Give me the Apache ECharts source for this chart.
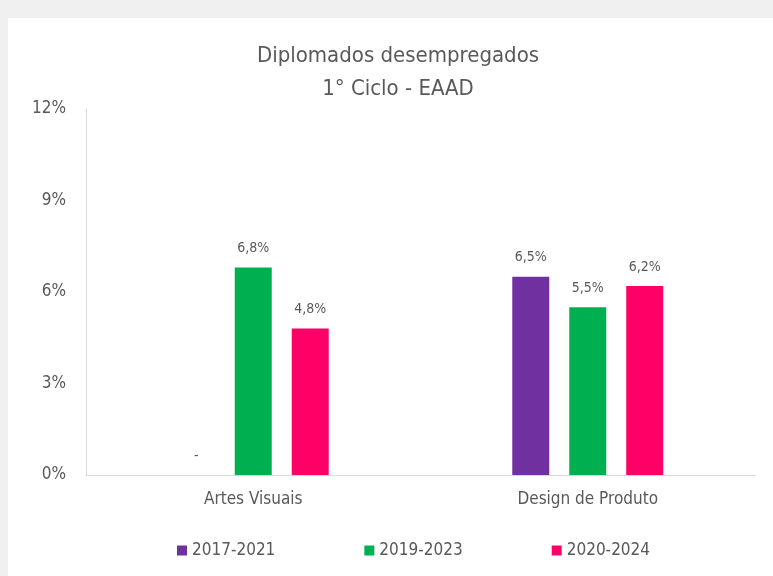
<!DOCTYPE html>
<html>
<head>
<meta charset="utf-8">
<script src="https://cdn.jsdelivr.net/npm/echarts@6/dist/echarts.min.js"></script>
<style>
  html, body { margin: 0; padding: 0; background: #f0f0f0; width: 773px; height: 576px; overflow: hidden; }
  #chart { position: absolute; left: 8px; top: 18px; width: 765px; height: 558px; background: #fff; }
</style>
</head>
<body>
<div id="chart"></div>
<script>
const categories = ['Artes Visuais', 'Design de Produto']
const seriesNames = ['2017-2021', '2019-2023', '2020-2024']
const colors = ['#7030A0', '#00B050', '#FF0066']
const v2017 = [null, 6.5]
const v2019 = [6.8, 5.5]
const v2020 = [4.8, 6.2]
const yTicks = [0, 3, 6, 9, 12]

const FONT = '"Liberation Sans Narrow", "DejaVu Sans Condensed", sans-serif'
const chart = echarts.init(document.getElementById('chart'))

function mkSeries(name, values, color) {
  return {
    name,
    type: 'bar',
    barWidth: 37,
    barGap: '54%',
    itemStyle: { color },
    // missing value -> zero-height bar with a dash label, like the original
    data: values.map((v) => (v == null ? { value: 0, label: { formatter: '-' } } : v)),
    label: {
      show: true,
      position: 'top',
      distance: 12,
      color: '#595959',
      fontFamily: FONT,
      fontSize: 14,
      formatter: (p) => p.value.toFixed(1).replace('.', ',') + '%',
    },
  }
}

chart.setOption({
  animation: false,
  textStyle: { fontFamily: FONT },
  title: {
    text: 'Diplomados desempregados\n1° Ciclo - EAAD',
    left: 385,
    textAlign: 'center',
    top: 17,
    textStyle: { color: '#595959', fontSize: 22, fontWeight: 'normal', fontFamily: FONT, lineHeight: 33 },
  },
  legend: {
    data: seriesNames,
    left: 164,
    top: 519,
    icon: 'rect',
    itemWidth: 10,
    itemHeight: 10,
    itemGap: 89,
    textStyle: { color: '#595959', fontSize: 17, fontFamily: FONT },
  },
  grid: { left: 78, top: 91, width: 669, height: 366 },
  xAxis: {
    type: 'category',
    data: categories,
    axisLine: { lineStyle: { color: '#d9d9d9' } },
    axisTick: { show: false },
    axisLabel: { color: '#595959', fontSize: 17, margin: 16, fontFamily: FONT },
  },
  yAxis: {
    type: 'value',
    min: 0,
    max: 12,
    interval: 3,
    axisLine: { show: true, lineStyle: { color: '#d9d9d9' } },
    axisTick: { show: false },
    splitLine: { show: false },
    axisLabel: { color: '#595959', fontSize: 17, margin: 20, fontFamily: FONT, formatter: (v) => (yTicks.includes(v) ? v + '%' : '') },
  },
  series: [
    mkSeries(seriesNames[0], v2017, colors[0]),
    mkSeries(seriesNames[1], v2019, colors[1]),
    mkSeries(seriesNames[2], v2020, colors[2]),
  ],
})
</script>
</body>
</html>
